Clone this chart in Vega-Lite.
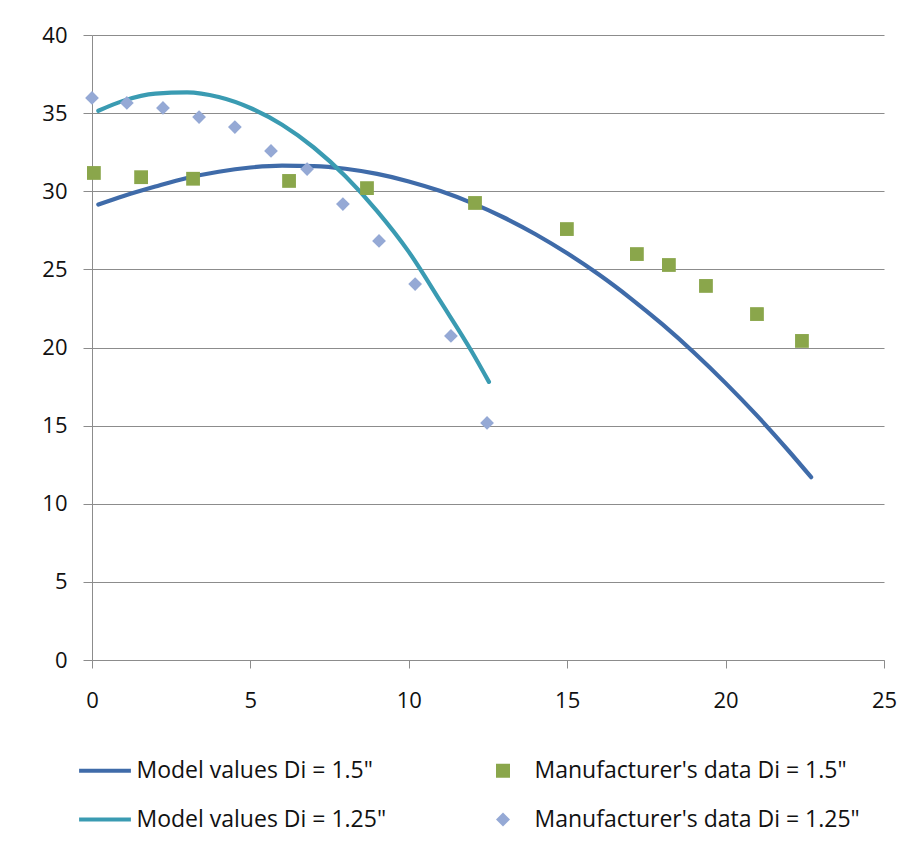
{
  "$schema": "https://vega.github.io/schema/vega-lite/v6.json",
  "autosize": "none",
  "width": 792,
  "height": 625,
  "padding": {"left": 92, "top": 35, "right": 31, "bottom": 192},
  "background": "white",
  "config": {
    "view": {"stroke": null},
    "font": "Open Sans",
    "axis": {
      "labelFont": "Open Sans",
      "labelFontSize": 22,
      "labelColor": "#111111",
      "domainColor": "#8c8c8c",
      "tickColor": "#8c8c8c",
      "gridColor": "#8c8c8c",
      "title": null
    },
    "legend": {
      "labelFont": "Open Sans",
      "labelFontSize": 23,
      "labelColor": "#111111",
      "labelLimit": 0,
      "orient": "none",
      "legendX": 1.5,
      "legendY": 724,
      "columns": 2,
      "columnPadding": 105,
      "rowPadding": 25,
      "symbolSize": 196,
      "symbolStrokeWidth": 0,
      "symbolOpacity": 1,
      "labelOffset": 20,
      "padding": 0,
      "title": null
    }
  },
  "datasets": {
    "model": [
      {"series": "Model values Di = 1.5\"", "x": 0.2, "y": 29.15},
      {"series": "Model values Di = 1.5\"", "x": 1, "y": 29.7},
      {"series": "Model values Di = 1.5\"", "x": 2, "y": 30.3},
      {"series": "Model values Di = 1.5\"", "x": 3, "y": 30.85},
      {"series": "Model values Di = 1.5\"", "x": 4, "y": 31.25},
      {"series": "Model values Di = 1.5\"", "x": 5, "y": 31.52},
      {"series": "Model values Di = 1.5\"", "x": 6, "y": 31.64},
      {"series": "Model values Di = 1.5\"", "x": 7, "y": 31.61},
      {"series": "Model values Di = 1.5\"", "x": 8, "y": 31.44},
      {"series": "Model values Di = 1.5\"", "x": 9, "y": 31.11},
      {"series": "Model values Di = 1.5\"", "x": 10, "y": 30.63},
      {"series": "Model values Di = 1.5\"", "x": 11, "y": 30.01},
      {"series": "Model values Di = 1.5\"", "x": 12, "y": 29.24},
      {"series": "Model values Di = 1.5\"", "x": 13, "y": 28.32},
      {"series": "Model values Di = 1.5\"", "x": 14, "y": 27.25},
      {"series": "Model values Di = 1.5\"", "x": 15, "y": 26.03},
      {"series": "Model values Di = 1.5\"", "x": 16, "y": 24.67},
      {"series": "Model values Di = 1.5\"", "x": 17, "y": 23.15},
      {"series": "Model values Di = 1.5\"", "x": 18, "y": 21.49},
      {"series": "Model values Di = 1.5\"", "x": 19, "y": 19.68},
      {"series": "Model values Di = 1.5\"", "x": 20, "y": 17.72},
      {"series": "Model values Di = 1.5\"", "x": 21, "y": 15.62},
      {"series": "Model values Di = 1.5\"", "x": 22, "y": 13.36},
      {"series": "Model values Di = 1.5\"", "x": 22.7, "y": 11.7},
      {"series": "Model values Di = 1.25\"", "x": 0.2, "y": 35.15},
      {"series": "Model values Di = 1.25\"", "x": 1, "y": 35.8},
      {"series": "Model values Di = 1.25\"", "x": 2, "y": 36.25},
      {"series": "Model values Di = 1.25\"", "x": 3, "y": 36.33},
      {"series": "Model values Di = 1.25\"", "x": 4, "y": 36.03},
      {"series": "Model values Di = 1.25\"", "x": 5, "y": 35.33},
      {"series": "Model values Di = 1.25\"", "x": 6, "y": 34.26},
      {"series": "Model values Di = 1.25\"", "x": 7, "y": 32.8},
      {"series": "Model values Di = 1.25\"", "x": 8, "y": 30.96},
      {"series": "Model values Di = 1.25\"", "x": 9, "y": 28.73},
      {"series": "Model values Di = 1.25\"", "x": 10, "y": 26.12},
      {"series": "Model values Di = 1.25\"", "x": 11, "y": 22.95},
      {"series": "Model values Di = 1.25\"", "x": 12, "y": 19.7},
      {"series": "Model values Di = 1.25\"", "x": 12.53, "y": 17.8}
    ],
    "maker": [
      {"series": "Manufacturer's data Di = 1.5\"", "x": 0.06, "y": 31.17},
      {"series": "Manufacturer's data Di = 1.5\"", "x": 1.55, "y": 30.9},
      {"series": "Manufacturer's data Di = 1.5\"", "x": 3.19, "y": 30.8},
      {"series": "Manufacturer's data Di = 1.5\"", "x": 6.22, "y": 30.66},
      {"series": "Manufacturer's data Di = 1.5\"", "x": 8.68, "y": 30.2},
      {"series": "Manufacturer's data Di = 1.5\"", "x": 12.09, "y": 29.25},
      {"series": "Manufacturer's data Di = 1.5\"", "x": 14.99, "y": 27.58},
      {"series": "Manufacturer's data Di = 1.5\"", "x": 17.2, "y": 25.98},
      {"series": "Manufacturer's data Di = 1.5\"", "x": 18.21, "y": 25.28},
      {"series": "Manufacturer's data Di = 1.5\"", "x": 19.38, "y": 23.94},
      {"series": "Manufacturer's data Di = 1.5\"", "x": 20.99, "y": 22.14},
      {"series": "Manufacturer's data Di = 1.5\"", "x": 22.41, "y": 20.42},
      {"series": "Manufacturer's data Di = 1.25\"", "x": 0.0, "y": 35.97},
      {"series": "Manufacturer's data Di = 1.25\"", "x": 1.1, "y": 35.65},
      {"series": "Manufacturer's data Di = 1.25\"", "x": 2.24, "y": 35.33},
      {"series": "Manufacturer's data Di = 1.25\"", "x": 3.38, "y": 34.75},
      {"series": "Manufacturer's data Di = 1.25\"", "x": 4.51, "y": 34.11},
      {"series": "Manufacturer's data Di = 1.25\"", "x": 5.65, "y": 32.58},
      {"series": "Manufacturer's data Di = 1.25\"", "x": 6.79, "y": 31.42},
      {"series": "Manufacturer's data Di = 1.25\"", "x": 7.92, "y": 29.18},
      {"series": "Manufacturer's data Di = 1.25\"", "x": 9.06, "y": 26.82},
      {"series": "Manufacturer's data Di = 1.25\"", "x": 10.2, "y": 24.06},
      {"series": "Manufacturer's data Di = 1.25\"", "x": 11.33, "y": 20.74},
      {"series": "Manufacturer's data Di = 1.25\"", "x": 12.47, "y": 15.17}
    ]
  },
  "encoding": {
    "x": {
      "field": "x", "type": "quantitative",
      "scale": {"domain": [0, 25], "nice": false, "zero": false},
      "axis": {"values": [0, 5, 10, 15, 20, 25], "grid": false, "tickSize": 8, "labelPadding": 22, "labelFlush": false}
    },
    "y": {
      "field": "y", "type": "quantitative",
      "scale": {"domain": [0, 40], "nice": false},
      "axis": {"values": [0, 5, 10, 15, 20, 25, 30, 35, 40], "grid": true, "tickSize": 9, "labelPadding": 16}
    },
    "color": {
      "field": "series", "type": "nominal",
      "scale": {
        "domain": ["Model values Di = 1.5\"", "Model values Di = 1.25\"", "Manufacturer's data Di = 1.5\"", "Manufacturer's data Di = 1.25\""],
        "range": ["#3f6ba9", "#3a9bb2", "#8aa64b", "#95a9d5"]
      }
    }
  },
  "layer": [
    {
      "data": {"name": "model"},
      "mark": {"type": "line", "interpolate": "monotone", "strokeWidth": 4.2, "strokeCap": "round"},
      "encoding": {
        "detail": {"field": "series"}
      }
    },
    {
      "data": {"name": "maker"},
      "mark": {"type": "point", "filled": true, "opacity": 1, "size": 190},
      "encoding": {
        "shape": {
          "field": "series", "type": "nominal",
          "scale": {
            "domain": ["Model values Di = 1.5\"", "Model values Di = 1.25\"", "Manufacturer's data Di = 1.5\"", "Manufacturer's data Di = 1.25\""],
            "range": ["M-3.7,-0.3H3.7V0.3H-3.7Z", "M-3.7,-0.3H3.7V0.3H-3.7Z", "square", "diamond"]
          }
        }
      }
    }
  ]
}
